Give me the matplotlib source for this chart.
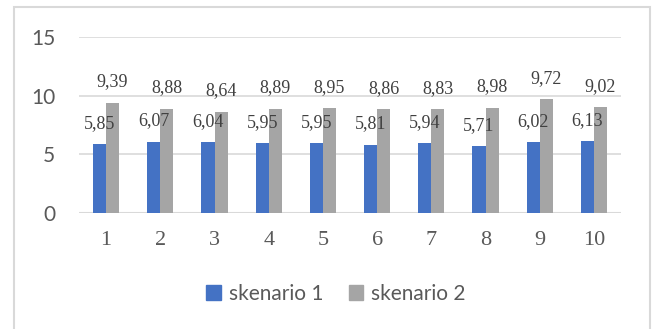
import numpy as np
import matplotlib.pyplot as plt
from matplotlib.patches import Rectangle, Patch

categories = ['1', '2', '3', '4', '5', '6', '7', '8', '9', '10']
skenario_1 = [5.85, 6.07, 6.04, 5.95, 5.95, 5.81, 5.94, 5.71, 6.02, 6.13]
skenario_2 = [9.39, 8.88, 8.64, 8.89, 8.95, 8.86, 8.83, 8.98, 9.72, 9.02]
series_names = ['skenario 1', 'skenario 2']
yticks = [0, 5, 10, 15]

blue = '#4472C4'
gray = '#A5A5A5'
text_col = '#595959'
grid_col = '#D9D9D9'

fig = plt.figure(figsize=(6.53, 3.29), dpi=100)
ax = fig.add_axes([79 / 653, 1 - 213 / 329, 542 / 653, 176 / 329])

# outer chart border like excel
fig.patches.append(Rectangle((14 / 653, -0.02), 636 / 653, 1.02 - 7 / 329,
                             transform=fig.transFigure, fill=False,
                             edgecolor=grid_col, linewidth=1.5))

x = np.arange(len(categories))
w = 0.24
ax.bar(x - w / 2, skenario_1, w, color=blue, zorder=3)
ax.bar(x + w / 2, skenario_2, w, color=gray, zorder=3)

# value labels with comma decimal
for xs, vals in ((x - w / 2, skenario_1), (x + w / 2, skenario_2)):
    for xi, v in zip(xs, vals):
        ax.annotate(f'{v:.2f}'.replace('.', ','), (xi, v), xytext=(0, 15),
                    textcoords='offset points', ha='center', va='center',
                    fontsize=13, family='Liberation Serif', color='#404040',
                    zorder=4)

ax.set_xlim(-0.5, len(categories) - 0.5)
ax.set_ylim(0, 15)
ax.set_yticks(yticks)
ax.set_xticks(x)
ax.set_xticklabels(categories, family='Liberation Serif', fontsize=16, color=text_col)
ax.set_yticklabels([str(t) for t in yticks], family='Lato', fontsize=15, color=text_col)
ax.tick_params(axis='both', length=0)
ax.tick_params(axis='x', pad=13)
ax.tick_params(axis='y', pad=17)
ax.grid(axis='y', color=grid_col, linewidth=1.2, zorder=0)
for s in ax.spines.values():
    s.set_visible(False)
ax.axhline(0, color=grid_col, linewidth=1.5, zorder=2)

handles = [Patch(color=blue), Patch(color=gray)]
leg = fig.legend(handles, series_names, loc='center', bbox_to_anchor=(336 / 653, 1 - 294 / 329),
                 ncol=2, frameon=False, handlelength=0.7, handleheight=0.7,
                 handletextpad=0.4, columnspacing=1.2,
                 prop={'family': 'Lato', 'size': 15})
for t in leg.get_texts():
    t.set_color(text_col)

fig.savefig('out.png', dpi=100)
